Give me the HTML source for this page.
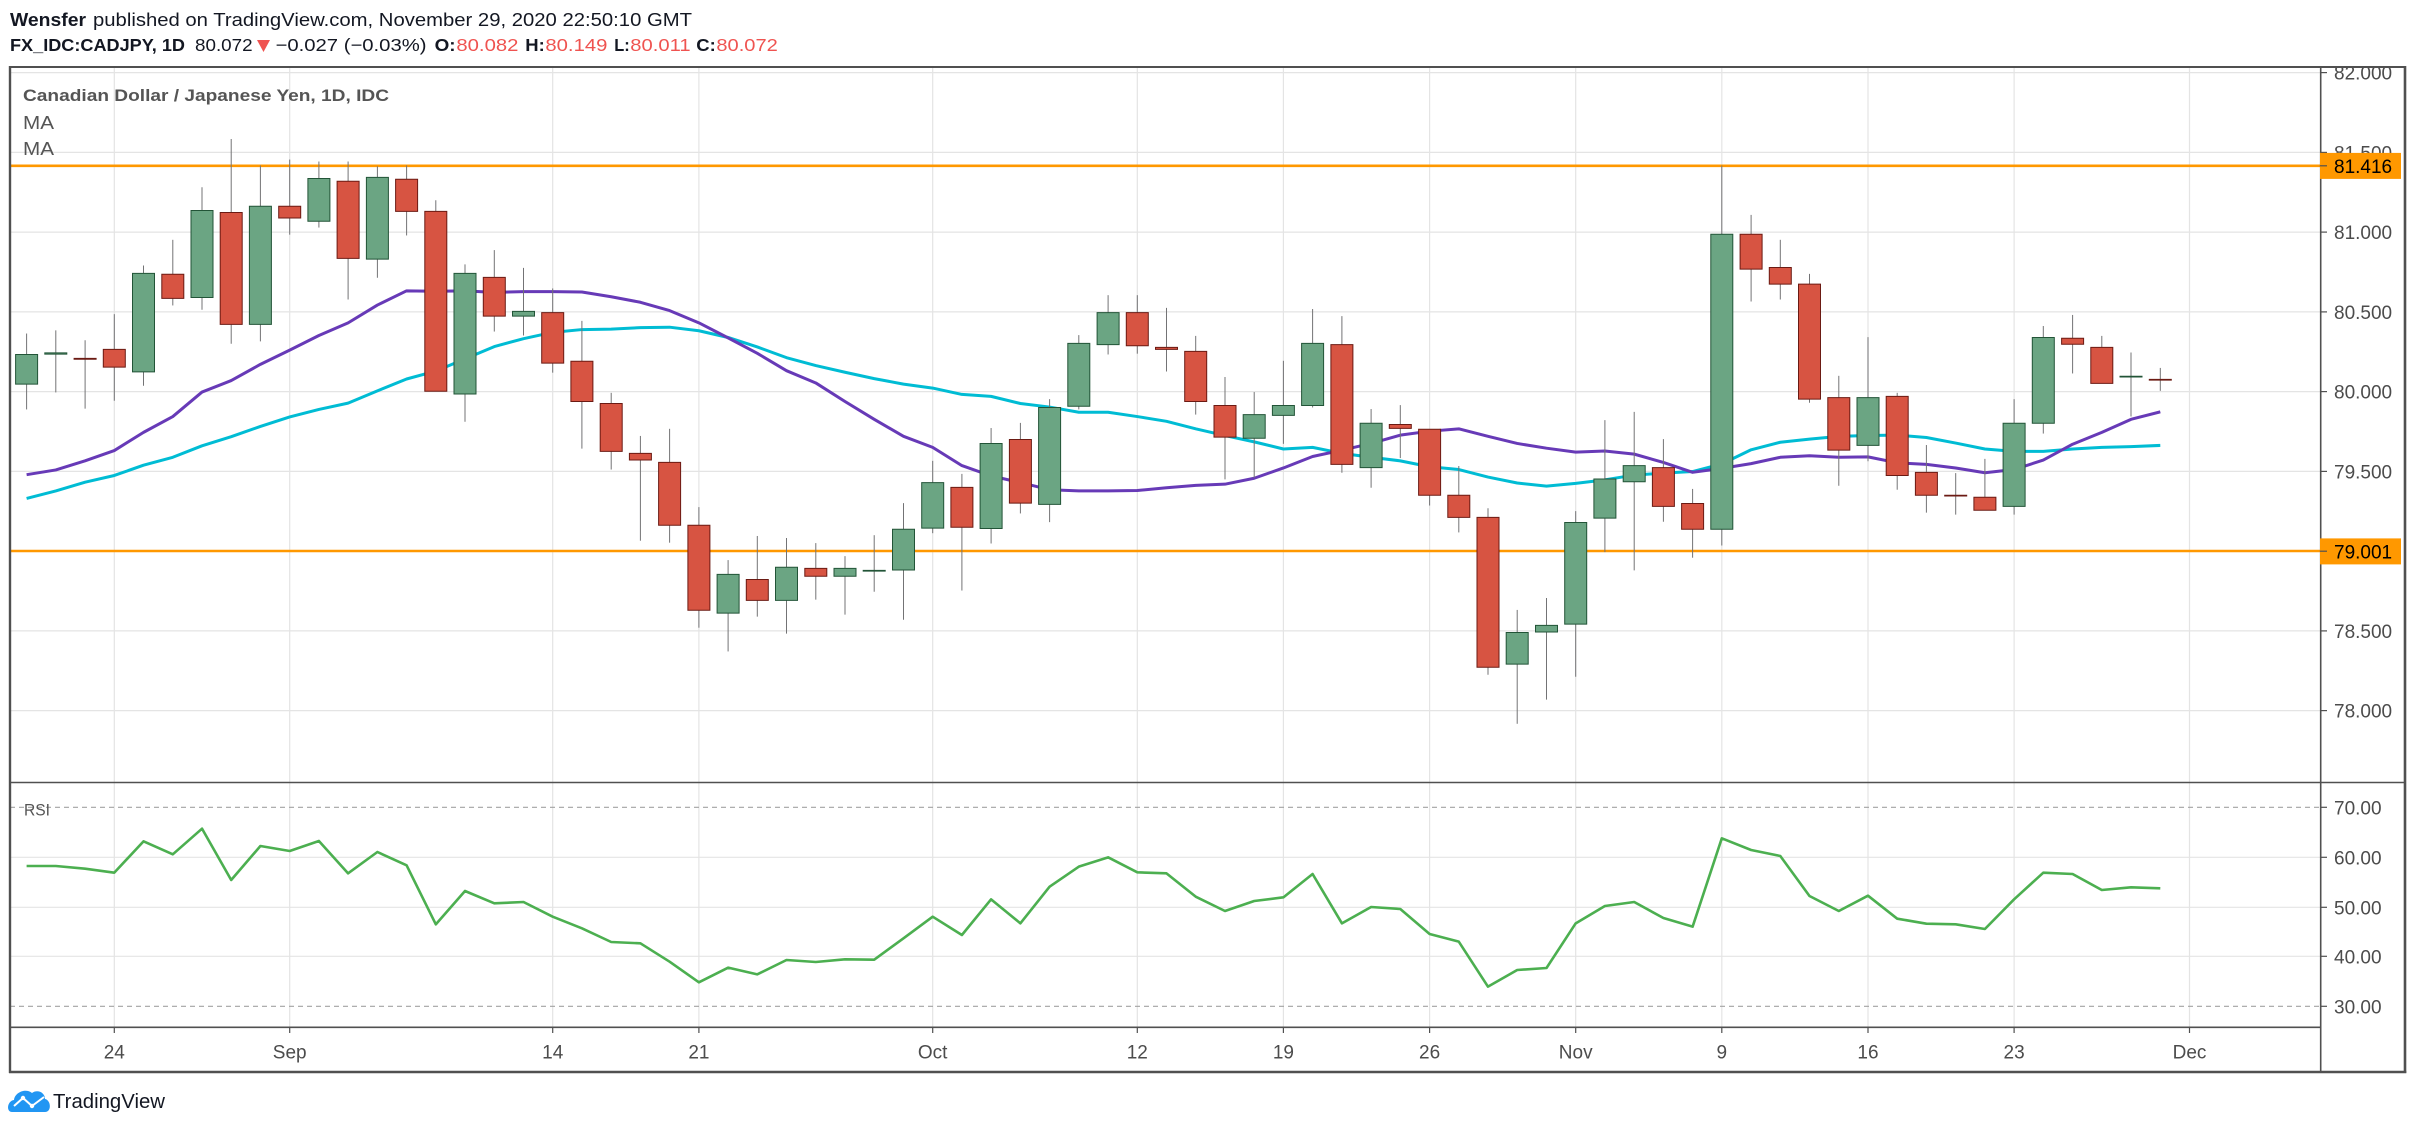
<!DOCTYPE html>
<html><head><meta charset="utf-8">
<style>
html,body{margin:0;padding:0;background:#fff;width:2415px;height:1129px;overflow:hidden}
svg{display:block}
.pg line,.pg rect,.pg polyline,.rg polyline{vector-effect:non-scaling-stroke}
.w{stroke:#737375;stroke-width:1}
.g{fill:#6ba583;stroke:#225437;stroke-width:1}
.r{fill:#d75442;stroke:#6b1a13;stroke-width:1}
.grid{stroke:#e4e4e4;stroke-width:1.2}
.ax{font-family:"Liberation Sans",sans-serif;font-size:19px;fill:#4c4c4c}
.bd{stroke:#505050;fill:none}
</style></head>
<body>
<svg width="2415" height="1129" viewBox="0 0 2415 1129" xmlns="http://www.w3.org/2000/svg">
<rect x="0" y="0" width="2415" height="1129" fill="#fff"/>

<!-- Header -->
<g font-family="Liberation Sans, sans-serif" fill="#131722">
<text x="10" y="26" font-size="18" font-weight="bold" textLength="76" lengthAdjust="spacingAndGlyphs">Wensfer</text>
<text x="93" y="26" font-size="18" textLength="599" lengthAdjust="spacingAndGlyphs">published on TradingView.com, November 29, 2020 22:50:10 GMT</text>
<text x="10" y="51" font-size="17.5" font-weight="bold" textLength="175" lengthAdjust="spacingAndGlyphs">FX_IDC:CADJPY, 1D</text>
<text x="195" y="51" font-size="17.5" textLength="57.6" lengthAdjust="spacingAndGlyphs">80.072</text>
<polygon points="257,40 270,40 263.5,52" fill="#ef5350"/>
<text x="275.5" y="51" font-size="17.5" textLength="151" lengthAdjust="spacingAndGlyphs">−0.027 (−0.03%)</text>
<text x="434.6" y="51" font-size="17.5" font-weight="bold" textLength="21" lengthAdjust="spacingAndGlyphs">O:</text>
<text x="456.4" y="51" font-size="17.5" fill="#ef5350" textLength="62" lengthAdjust="spacingAndGlyphs">80.082</text>
<text x="525.3" y="51" font-size="17.5" font-weight="bold" textLength="19.5" lengthAdjust="spacingAndGlyphs">H:</text>
<text x="545.4" y="51" font-size="17.5" fill="#ef5350" textLength="62" lengthAdjust="spacingAndGlyphs">80.149</text>
<text x="614.2" y="51" font-size="17.5" font-weight="bold" textLength="15.5" lengthAdjust="spacingAndGlyphs">L:</text>
<text x="630.3" y="51" font-size="17.5" fill="#ef5350" textLength="60.3" lengthAdjust="spacingAndGlyphs">80.011</text>
<text x="696.3" y="51" font-size="17.5" font-weight="bold" textLength="19.5" lengthAdjust="spacingAndGlyphs">C:</text>
<text x="716.4" y="51" font-size="17.5" fill="#ef5350" textLength="61.4" lengthAdjust="spacingAndGlyphs">80.072</text>
</g>

<!-- Grid: horizontal price -->
<g class="grid">
<line x1="10" x2="2320" y1="72.6" y2="72.6"/>
<line x1="10" x2="2320" y1="152.4" y2="152.4"/>
<line x1="10" x2="2320" y1="232.1" y2="232.1"/>
<line x1="10" x2="2320" y1="311.9" y2="311.9"/>
<line x1="10" x2="2320" y1="391.6" y2="391.6"/>
<line x1="10" x2="2320" y1="471.4" y2="471.4"/>
<line x1="10" x2="2320" y1="551.1" y2="551.1"/>
<line x1="10" x2="2320" y1="630.9" y2="630.9"/>
<line x1="10" x2="2320" y1="710.6" y2="710.6"/>
<!-- RSI grid -->
<line x1="10" x2="2320" y1="857.3" y2="857.3"/>
<line x1="10" x2="2320" y1="907.3" y2="907.3"/>
<line x1="10" x2="2320" y1="956.3" y2="956.3"/>
<!-- vertical -->
<line x1="114.3" x2="114.3" y1="67" y2="1027"/>
<line x1="289.7" x2="289.7" y1="67" y2="1027"/>
<line x1="552.7" x2="552.7" y1="67" y2="1027"/>
<line x1="698.9" x2="698.9" y1="67" y2="1027"/>
<line x1="932.7" x2="932.7" y1="67" y2="1027"/>
<line x1="1137.3" x2="1137.3" y1="67" y2="1027"/>
<line x1="1283.4" x2="1283.4" y1="67" y2="1027"/>
<line x1="1429.6" x2="1429.6" y1="67" y2="1027"/>
<line x1="1575.7" x2="1575.7" y1="67" y2="1027"/>
<line x1="1721.8" x2="1721.8" y1="67" y2="1027"/>
<line x1="1868.0" x2="1868.0" y1="67" y2="1027"/>
<line x1="2014.1" x2="2014.1" y1="67" y2="1027"/>
<line x1="2189.5" x2="2189.5" y1="67" y2="1027"/>
</g>
<!-- RSI dashed bands -->
<line x1="10" x2="2320" y1="807.3" y2="807.3" stroke="#a3a3a3" stroke-width="1.2" stroke-dasharray="5 4"/>
<line x1="10" x2="2320" y1="1006.3" y2="1006.3" stroke="#a3a3a3" stroke-width="1.2" stroke-dasharray="5 4"/>

<!-- Pane labels -->
<g font-family="Liberation Sans, sans-serif" fill="#555">
<text x="23" y="101" font-size="17" font-weight="bold" textLength="366" lengthAdjust="spacingAndGlyphs">Canadian Dollar / Japanese Yen, 1D, IDC</text>
<text x="23" y="129" font-size="18" textLength="31" lengthAdjust="spacingAndGlyphs">MA</text>
<text x="23" y="155" font-size="18" textLength="31" lengthAdjust="spacingAndGlyphs">MA</text>
<text x="24" y="815.5" font-size="17" textLength="26" lengthAdjust="spacingAndGlyphs">RSI</text>
</g>

<!-- Orange levels -->
<line x1="10" x2="2320" y1="165.8" y2="165.8" stroke="#ff9800" stroke-width="2.6"/>
<line x1="10" x2="2320" y1="551.0" y2="551.0" stroke="#ff9800" stroke-width="2.6"/>

<!-- Price pane series (y in zoom units) -->
<g class="pg" transform="translate(0,120) scale(1,0.395413)">
<polyline fill="none" stroke="#00bcd4" stroke-width="3" stroke-linejoin="round" points="26.6,957 55.8,938 85.1,916 114.3,899 143.5,873 172.8,853 202.0,824 231.2,801 260.4,775 289.7,751 318.9,732 348.1,716 377.4,685 406.6,655 435.8,635 465.0,604 494.3,573 523.5,553 552.7,537 581.9,530 611.2,529 640.4,525 669.6,524 698.9,533 728.1,550 757.3,574 786.5,601 815.8,621 845.0,638 874.2,654 903.5,668 932.7,678 961.9,694 991.1,699 1020.4,717 1049.6,726 1078.8,739 1108.1,739 1137.3,750 1166.5,762 1195.7,781 1225.0,798 1254.2,814 1283.4,832 1312.6,828 1341.9,843 1371.1,853 1400.3,862 1429.6,877 1458.8,884 1488.0,903 1517.2,918 1546.5,926 1575.7,919 1604.9,910 1634.2,898 1663.4,893 1692.6,889 1721.8,870 1751.1,834 1780.3,815 1809.5,807 1838.8,800 1868.0,798 1897.2,797 1926.4,803 1955.7,817 1984.9,832 2014.1,838 2043.3,838 2072.6,832 2101.8,828 2131.0,826 2160.3,823"/>
<polyline fill="none" stroke="#673ab7" stroke-width="3" stroke-linejoin="round" points="26.6,897 55.8,885 85.1,862 114.3,836 143.5,790 172.8,750 202.0,688 231.2,659 260.4,618 289.7,582 318.9,545 348.1,513 377.4,468 406.6,432 435.8,433 465.0,432 494.3,436 523.5,434 552.7,434 581.9,435 611.2,447 640.4,461 669.6,482 698.9,513 728.1,551 757.3,590 786.5,634 815.8,665 845.0,712 874.2,757 903.5,800 932.7,828 961.9,874 991.1,900 1020.4,917 1049.6,935 1078.8,938 1108.1,938 1137.3,937 1166.5,930 1195.7,924 1225.0,921 1254.2,906 1283.4,880 1312.6,851 1341.9,835 1371.1,818 1400.3,797 1429.6,787 1458.8,781 1488.0,800 1517.2,818 1546.5,830 1575.7,840 1604.9,837 1634.2,845 1663.4,866 1692.6,891 1721.8,881 1751.1,869 1780.3,853 1809.5,849 1838.8,853 1868.0,852 1897.2,867 1926.4,871 1955.7,880 1984.9,892 2014.1,884 2043.3,860 2072.6,820 2101.8,790 2131.0,757 2160.3,738"/>

<!-- candles -->
<line class="w" x1="26.6" x2="26.6" y1="540" y2="732"/><rect class="g" x="15.6" y="593" width="22" height="75"/>
<line class="w" x1="55.8" x2="55.8" y1="532" y2="689"/><rect class="g" x="44.8" y="589" width="22" height="3"/>
<line class="w" x1="85.1" x2="85.1" y1="557" y2="730"/><rect class="r" x="74.1" y="603" width="22" height="2"/>
<line class="w" x1="114.3" x2="114.3" y1="491" y2="710"/><rect class="r" x="103.3" y="580" width="22" height="45"/>
<line class="w" x1="143.5" x2="143.5" y1="368" y2="672"/><rect class="g" x="132.5" y="388" width="22" height="249"/>
<line class="w" x1="172.8" x2="172.8" y1="303" y2="469"/><rect class="r" x="161.8" y="390" width="22" height="61"/>
<line class="w" x1="202.0" x2="202.0" y1="170" y2="480"/><rect class="g" x="191" y="229" width="22" height="220"/>
<line class="w" x1="231.2" x2="231.2" y1="48" y2="566"/><rect class="r" x="220.2" y="234" width="22" height="283"/>
<line class="w" x1="260.4" x2="260.4" y1="115" y2="560"/><rect class="g" x="249.4" y="218" width="22" height="299"/>
<line class="w" x1="289.7" x2="289.7" y1="100" y2="290"/><rect class="r" x="278.7" y="218" width="22" height="30"/>
<line class="w" x1="318.9" x2="318.9" y1="105" y2="272"/><rect class="g" x="307.9" y="148" width="22" height="108"/>
<line class="w" x1="348.1" x2="348.1" y1="105" y2="454"/><rect class="r" x="337.1" y="155" width="22" height="195"/>
<line class="w" x1="377.4" x2="377.4" y1="117" y2="399"/><rect class="g" x="366.4" y="145" width="22" height="207"/>
<line class="w" x1="406.6" x2="406.6" y1="115" y2="292"/><rect class="r" x="395.6" y="150" width="22" height="81"/>
<line class="w" x1="435.8" x2="435.8" y1="203" y2="686"/><rect class="r" x="424.8" y="231" width="22" height="455"/>
<line class="w" x1="465.0" x2="465.0" y1="365" y2="763"/><rect class="g" x="454" y="388" width="22" height="305"/>
<line class="w" x1="494.3" x2="494.3" y1="329" y2="535"/><rect class="r" x="483.3" y="398" width="22" height="98"/>
<line class="w" x1="523.5" x2="523.5" y1="374" y2="545"/><rect class="g" x="512.5" y="484" width="22" height="12"/>
<line class="w" x1="552.7" x2="552.7" y1="426" y2="639"/><rect class="r" x="541.7" y="487" width="22" height="128"/>
<line class="w" x1="581.9" x2="581.9" y1="508" y2="831"/><rect class="r" x="570.9" y="610" width="22" height="102"/>
<line class="w" x1="611.2" x2="611.2" y1="690" y2="884"/><rect class="r" x="600.2" y="717" width="22" height="121"/>
<line class="w" x1="640.4" x2="640.4" y1="799" y2="1064"/><rect class="r" x="629.4" y="843" width="22" height="17"/>
<line class="w" x1="669.6" x2="669.6" y1="781" y2="1069"/><rect class="r" x="658.6" y="866" width="22" height="159"/>
<line class="w" x1="698.9" x2="698.9" y1="979" y2="1284"/><rect class="r" x="687.9" y="1025" width="22" height="215"/>
<line class="w" x1="728.1" x2="728.1" y1="1113" y2="1344"/><rect class="g" x="717.1" y="1149" width="22" height="98"/>
<line class="w" x1="757.3" x2="757.3" y1="1052" y2="1256"/><rect class="r" x="746.3" y="1162" width="22" height="53"/>
<line class="w" x1="786.5" x2="786.5" y1="1057" y2="1299"/><rect class="g" x="775.5" y="1131" width="22" height="84"/>
<line class="w" x1="815.8" x2="815.8" y1="1070" y2="1213"/><rect class="r" x="804.8" y="1134" width="22" height="20"/>
<line class="w" x1="845.0" x2="845.0" y1="1103" y2="1251"/><rect class="g" x="834" y="1134" width="22" height="20"/>
<line class="w" x1="874.2" x2="874.2" y1="1050" y2="1193"/><rect class="g" x="863.2" y="1139" width="22" height="2"/>
<line class="w" x1="903.5" x2="903.5" y1="969" y2="1264"/><rect class="g" x="892.5" y="1035" width="22" height="103"/>
<line class="w" x1="932.7" x2="932.7" y1="862" y2="1045"/><rect class="g" x="921.7" y="917" width="22" height="115"/>
<line class="w" x1="961.9" x2="961.9" y1="895" y2="1190"/><rect class="r" x="950.9" y="929" width="22" height="101"/>
<line class="w" x1="991.1" x2="991.1" y1="779" y2="1071"/><rect class="g" x="980.1" y="818" width="22" height="215"/>
<line class="w" x1="1020.4" x2="1020.4" y1="766" y2="995"/><rect class="r" x="1009.4" y="808" width="22" height="161"/>
<line class="w" x1="1049.6" x2="1049.6" y1="706" y2="1017"/><rect class="g" x="1038.6" y="727" width="22" height="245"/>
<line class="w" x1="1078.8" x2="1078.8" y1="544" y2="732"/><rect class="g" x="1067.8" y="565" width="22" height="159"/>
<line class="w" x1="1108.1" x2="1108.1" y1="443" y2="593"/><rect class="g" x="1097.1" y="487" width="22" height="81"/>
<line class="w" x1="1137.3" x2="1137.3" y1="443" y2="591"/><rect class="r" x="1126.3" y="487" width="22" height="84"/>
<line class="w" x1="1166.5" x2="1166.5" y1="475" y2="636"/><rect class="r" x="1155.5" y="575" width="22" height="5"/>
<line class="w" x1="1195.7" x2="1195.7" y1="546" y2="745"/><rect class="r" x="1184.7" y="585" width="22" height="127"/>
<line class="w" x1="1225.0" x2="1225.0" y1="650" y2="909"/><rect class="r" x="1214" y="722" width="22" height="80"/>
<line class="w" x1="1254.2" x2="1254.2" y1="688" y2="905"/><rect class="g" x="1243.2" y="745" width="22" height="60"/>
<line class="w" x1="1283.4" x2="1283.4" y1="609" y2="819"/><rect class="g" x="1272.4" y="722" width="22" height="25"/>
<line class="w" x1="1312.6" x2="1312.6" y1="478" y2="727"/><rect class="g" x="1301.6" y="565" width="22" height="157"/>
<line class="w" x1="1341.9" x2="1341.9" y1="496" y2="892"/><rect class="r" x="1330.9" y="568" width="22" height="303"/>
<line class="w" x1="1371.1" x2="1371.1" y1="731" y2="930"/><rect class="g" x="1360.1" y="767" width="22" height="112"/>
<line class="w" x1="1400.3" x2="1400.3" y1="721" y2="855"/><rect class="r" x="1389.3" y="770" width="22" height="10"/>
<line class="w" x1="1429.6" x2="1429.6" y1="782" y2="975"/><rect class="r" x="1418.6" y="782" width="22" height="167"/>
<line class="w" x1="1458.8" x2="1458.8" y1="875" y2="1043"/><rect class="r" x="1447.8" y="949" width="22" height="56"/>
<line class="w" x1="1488.0" x2="1488.0" y1="982" y2="1403"/><rect class="r" x="1477" y="1005" width="22" height="379"/>
<line class="w" x1="1517.2" x2="1517.2" y1="1239" y2="1527"/><rect class="g" x="1506.2" y="1296" width="22" height="80"/>
<line class="w" x1="1546.5" x2="1546.5" y1="1209" y2="1466"/><rect class="g" x="1535.5" y="1278" width="22" height="17"/>
<line class="w" x1="1575.7" x2="1575.7" y1="989" y2="1408"/><rect class="g" x="1564.7" y="1018" width="22" height="257"/>
<line class="w" x1="1604.9" x2="1604.9" y1="759" y2="1093"/><rect class="g" x="1593.9" y="908" width="22" height="99"/>
<line class="w" x1="1634.2" x2="1634.2" y1="738" y2="1139"/><rect class="g" x="1623.2" y="874" width="22" height="41"/>
<line class="w" x1="1663.4" x2="1663.4" y1="807" y2="1016"/><rect class="r" x="1652.4" y="879" width="22" height="98"/>
<line class="w" x1="1692.6" x2="1692.6" y1="933" y2="1107"/><rect class="r" x="1681.6" y="970" width="22" height="65"/>
<line class="w" x1="1721.8" x2="1721.8" y1="115" y2="1076"/><rect class="g" x="1710.8" y="289" width="22" height="746"/>
<line class="w" x1="1751.1" x2="1751.1" y1="240" y2="459"/><rect class="r" x="1740.1" y="289" width="22" height="88"/>
<line class="w" x1="1780.3" x2="1780.3" y1="303" y2="454"/><rect class="r" x="1769.3" y="373" width="22" height="42"/>
<line class="w" x1="1809.5" x2="1809.5" y1="389" y2="715"/><rect class="r" x="1798.5" y="415" width="22" height="291"/>
<line class="w" x1="1838.8" x2="1838.8" y1="647" y2="925"/><rect class="r" x="1827.8" y="702" width="22" height="133"/>
<line class="w" x1="1868.0" x2="1868.0" y1="549" y2="863"/><rect class="g" x="1857" y="702" width="22" height="121"/>
<line class="w" x1="1897.2" x2="1897.2" y1="690" y2="935"/><rect class="r" x="1886.2" y="699" width="22" height="200"/>
<line class="w" x1="1926.4" x2="1926.4" y1="822" y2="993"/><rect class="r" x="1915.4" y="891" width="22" height="58"/>
<line class="w" x1="1955.7" x2="1955.7" y1="893" y2="998"/><rect class="r" x="1944.7" y="949" width="22" height="2"/>
<line class="w" x1="1984.9" x2="1984.9" y1="857" y2="987"/><rect class="r" x="1973.9" y="954" width="22" height="33"/>
<line class="w" x1="2014.1" x2="2014.1" y1="706" y2="998"/><rect class="g" x="2003.1" y="767" width="22" height="210"/>
<line class="w" x1="2043.3" x2="2043.3" y1="521" y2="793"/><rect class="g" x="2032.3" y="550" width="22" height="217"/>
<line class="w" x1="2072.6" x2="2072.6" y1="493" y2="641"/><rect class="r" x="2061.6" y="552" width="22" height="15"/>
<line class="w" x1="2101.8" x2="2101.8" y1="546" y2="666"/><rect class="r" x="2090.8" y="575" width="22" height="91"/>
<line class="w" x1="2131.0" x2="2131.0" y1="588" y2="750"/><rect class="g" x="2120" y="648" width="22" height="2"/>
<line class="w" x1="2160.3" x2="2160.3" y1="627" y2="685"/><rect class="r" x="2149.3" y="656" width="22" height="2"/>
</g>

<!-- RSI line -->
<g class="rg" transform="translate(0,760) scale(1,0.333333)">
<polyline fill="none" stroke="#4caf50" stroke-width="2.6" stroke-linejoin="round" points="26.6,318 55.8,318 85.1,326 114.3,338 143.5,244 172.8,283 202.0,206 231.2,360 260.4,258 289.7,273 318.9,243 348.1,340 377.4,276 406.6,316 435.8,493 465.0,393 494.3,430 523.5,426 552.7,470 581.9,505 611.2,546 640.4,550 669.6,605 698.9,667 728.1,623 757.3,643 786.5,600 815.8,606 845.0,598 874.2,599 903.5,535 932.7,470 961.9,525 991.1,418 1020.4,490 1049.6,380 1078.8,320 1108.1,292 1137.3,337 1166.5,340 1195.7,410 1225.0,453 1254.2,423 1283.4,412 1312.6,342 1341.9,490 1371.1,441 1400.3,447 1429.6,522 1458.8,545 1488.0,680 1517.2,630 1546.5,624 1575.7,490 1604.9,438 1634.2,426 1663.4,474 1692.6,500 1721.8,235 1751.1,270 1780.3,288 1809.5,408 1838.8,453 1868.0,407 1897.2,476 1926.4,491 1955.7,493 1984.9,507 2014.1,418 2043.3,338 2072.6,342 2101.8,390 2131.0,382 2160.3,385"/>
</g>

<!-- Frame / borders -->
<line x1="10" x2="2406" y1="67" y2="67" stroke="#505050" stroke-width="2"/>
<line x1="10" x2="10" y1="66" y2="1073" stroke="#505050" stroke-width="2.4"/>
<line x1="2405" x2="2405" y1="66" y2="1073" stroke="#505050" stroke-width="2.6"/>
<line x1="9" x2="2406.3" y1="1072" y2="1072" stroke="#505050" stroke-width="2.6"/>
<line x1="2320.7" x2="2320.7" y1="67" y2="1072" stroke="#505050" stroke-width="1.6"/>
<line x1="10" x2="2405" y1="782.5" y2="782.5" stroke="#505050" stroke-width="1.6"/>
<line x1="10" x2="2320.7" y1="1027.3" y2="1027.3" stroke="#505050" stroke-width="1.6"/>

<!-- Price axis ticks & labels -->
<defs><clipPath id="axclip"><rect x="2321" y="68" width="84" height="714"/></clipPath></defs>
<g stroke="#505050" stroke-width="1.2">
<line x1="2320" x2="2327" y1="72.6" y2="72.6"/>
<line x1="2320" x2="2327" y1="152.4" y2="152.4"/>
<line x1="2320" x2="2327" y1="232.1" y2="232.1"/>
<line x1="2320" x2="2327" y1="311.9" y2="311.9"/>
<line x1="2320" x2="2327" y1="391.6" y2="391.6"/>
<line x1="2320" x2="2327" y1="471.4" y2="471.4"/>
<line x1="2320" x2="2327" y1="630.9" y2="630.9"/>
<line x1="2320" x2="2327" y1="710.6" y2="710.6"/>
<line x1="2320" x2="2327" y1="807.3" y2="807.3"/>
<line x1="2320" x2="2327" y1="857.3" y2="857.3"/>
<line x1="2320" x2="2327" y1="907.3" y2="907.3"/>
<line x1="2320" x2="2327" y1="956.3" y2="956.3"/>
<line x1="2320" x2="2327" y1="1006.3" y2="1006.3"/>
</g>
<g class="ax" clip-path="url(#axclip)">
<text x="2334" y="79.6">82.000</text>
<text x="2334" y="159.4">81.500</text>
<text x="2334" y="239.1">81.000</text>
<text x="2334" y="318.9">80.500</text>
<text x="2334" y="398.6">80.000</text>
<text x="2334" y="478.4">79.500</text>
<text x="2334" y="637.9">78.500</text>
<text x="2334" y="717.6">78.000</text>
</g>
<g class="ax">
<text x="2334" y="814.3">70.00</text>
<text x="2334" y="864.3">60.00</text>
<text x="2334" y="914.3">50.00</text>
<text x="2334" y="963.3">40.00</text>
<text x="2334" y="1013.3">30.00</text>
</g>
<!-- orange value boxes -->
<rect x="2320" y="152.9" width="81" height="26" fill="#ff9800"/>
<line x1="2320" x2="2327" y1="165.8" y2="165.8" stroke="#505050" stroke-width="1.2"/>
<text x="2334" y="172.8" font-family="Liberation Sans, sans-serif" font-size="19" fill="#000">81.416</text>
<rect x="2320" y="538.4" width="81" height="26" fill="#ff9800"/>
<line x1="2320" x2="2327" y1="551.2" y2="551.2" stroke="#505050" stroke-width="1.2"/>
<text x="2334" y="558.3" font-family="Liberation Sans, sans-serif" font-size="19" fill="#000">79.001</text>

<!-- Time axis ticks & labels -->
<g stroke="#505050" stroke-width="1.2">
<line x1="114.3" x2="114.3" y1="1027" y2="1033"/>
<line x1="289.7" x2="289.7" y1="1027" y2="1033"/>
<line x1="552.7" x2="552.7" y1="1027" y2="1033"/>
<line x1="698.9" x2="698.9" y1="1027" y2="1033"/>
<line x1="932.7" x2="932.7" y1="1027" y2="1033"/>
<line x1="1137.3" x2="1137.3" y1="1027" y2="1033"/>
<line x1="1283.4" x2="1283.4" y1="1027" y2="1033"/>
<line x1="1429.6" x2="1429.6" y1="1027" y2="1033"/>
<line x1="1575.7" x2="1575.7" y1="1027" y2="1033"/>
<line x1="1721.8" x2="1721.8" y1="1027" y2="1033"/>
<line x1="1868.0" x2="1868.0" y1="1027" y2="1033"/>
<line x1="2014.1" x2="2014.1" y1="1027" y2="1033"/>
<line x1="2189.5" x2="2189.5" y1="1027" y2="1033"/>
</g>
<g class="ax" text-anchor="middle">
<text x="114.3" y="1058.5">24</text>
<text x="289.7" y="1058.5">Sep</text>
<text x="552.7" y="1058.5">14</text>
<text x="698.9" y="1058.5">21</text>
<text x="932.7" y="1058.5">Oct</text>
<text x="1137.3" y="1058.5">12</text>
<text x="1283.4" y="1058.5">19</text>
<text x="1429.6" y="1058.5">26</text>
<text x="1575.7" y="1058.5">Nov</text>
<text x="1721.8" y="1058.5">9</text>
<text x="1868.0" y="1058.5">16</text>
<text x="2014.1" y="1058.5">23</text>
<text x="2189.5" y="1058.5">Dec</text>
</g>

<!-- TradingView logo -->
<path d="M12,1112 C6,1112 7,1101 14,1100 C15,1092 26,1088 32,1093 C37,1089 45,1092 45,1099 C51,1100 52,1112 45,1112 Z" fill="#2196f3"/>
<polyline points="14,1106 23,1098 32,1106 44,1097" fill="none" stroke="#fff" stroke-width="2"/>
<circle cx="23" cy="1098" r="2.2" fill="#fff"/><circle cx="32" cy="1106" r="2.2" fill="#fff"/>
<text x="53" y="1108" font-family="Liberation Sans, sans-serif" font-size="20.5" fill="#131722" textLength="112" lengthAdjust="spacingAndGlyphs">TradingView</text>
</svg>
</body></html>
